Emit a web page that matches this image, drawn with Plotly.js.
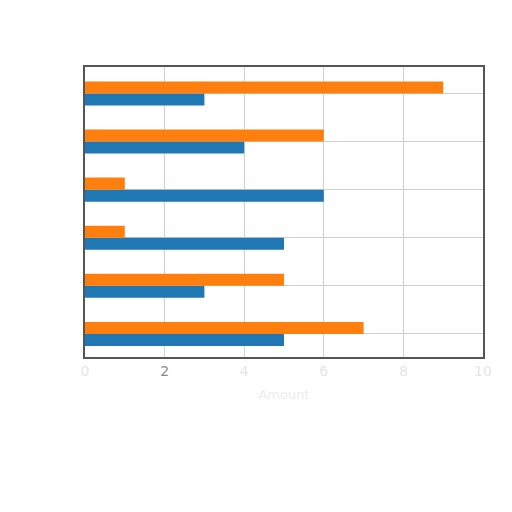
<!DOCTYPE html>
<html>
<head>
<meta charset="utf-8">
<script src="https://cdn.plot.ly/plotly-3.0.1.min.js"></script>
<style>
  html, body { margin: 0; padding: 0; background: #fff; }
  #chart { width: 512px; height: 512px; }
</style>
</head>
<body>
<div id="chart"></div>
<script>
// categories, bottom to top
var categories = ['A', 'B', 'C', 'D', 'E', 'F'];
var blueValues = [5, 3, 5, 6, 4, 3];
var orangeValues = [7, 5, 1, 1, 6, 9];
var tickValues = [0, 2, 4, 6, 8, 10];
var tickLabels = ['0', '2', '4', '6', '8', '10'];

var data = [
  {
    type: 'bar',
    orientation: 'h',
    y: categories,
    x: blueValues,
    marker: { color: '#1f77b4' },
    hoverinfo: 'none'
  },
  {
    type: 'bar',
    orientation: 'h',
    y: categories,
    x: orangeValues,
    marker: { color: '#ff7f0e' },
    hoverinfo: 'none'
  }
];

// the reference shows only the "2" clearly, the rest are washed out
var shownText = tickLabels.map(function (t) {
  var c = t === '2' ? '#8a8a8a' : '#e6e6e6';
  return '<span style="color:' + c + '">' + t + '</span>';
});

var layout = {
  width: 512,
  height: 512,
  margin: { l: 85, r: 29, t: 67, b: 155 },
  paper_bgcolor: '#ffffff',
  plot_bgcolor: '#ffffff',
  showlegend: false,
  barmode: 'group',
  bargap: 0.5,
  bargroupgap: 0,
  font: { family: 'DejaVu Sans, sans-serif', size: 14, color: '#8a8a8a' },
  xaxis: {
    range: [0, 10],
    tickvals: tickValues,
    ticktext: shownText,
    showgrid: true,
    gridcolor: '#d0d0d0',
    gridwidth: 1,
    zeroline: false,
    showline: true,
    linecolor: '#555555',
    linewidth: 2,
    mirror: true,
    ticks: '',
    title: { text: 'Amount', font: { size: 13, color: '#ececec' }, standoff: 12 }
  },
  yaxis: {
    type: 'category',
    range: [-0.48, 5.55],
    showticklabels: false,
    showgrid: true,
    gridcolor: '#d0d0d0',
    gridwidth: 1,
    zeroline: false,
    showline: true,
    linecolor: '#555555',
    linewidth: 2,
    mirror: true,
    ticks: ''
  }
};

Plotly.newPlot('chart', data, layout, { displayModeBar: false, staticPlot: true });
</script>
</body>
</html>
